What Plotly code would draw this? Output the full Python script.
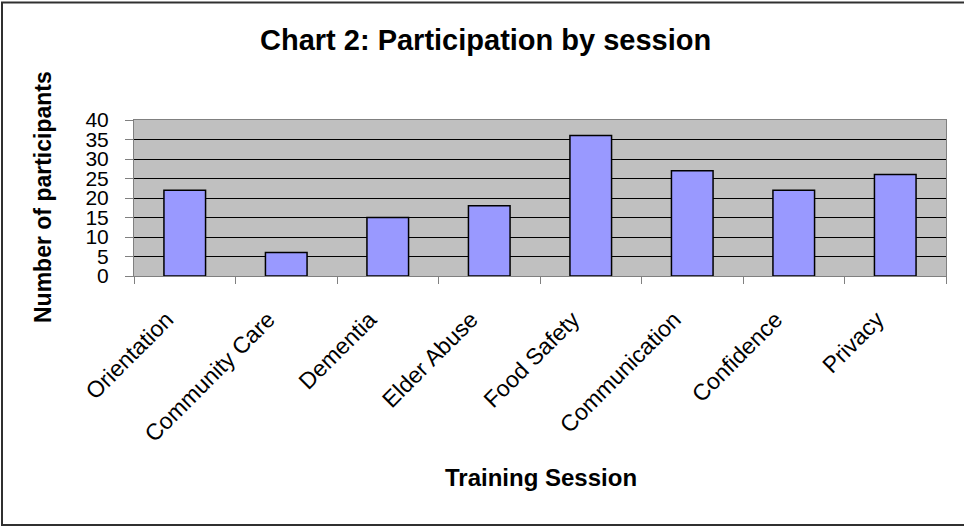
import plotly.graph_objects as go

# Training sessions and attendance counts
sessions = ["Orientation", "Community Care", "Dementia", "Elder Abuse",
            "Food Safety", "Communication", "Confidence", "Privacy"]
participants = [22, 6, 15, 18, 36, 27, 22, 26]

y_ticks = [0, 5, 10, 15, 20, 25, 30, 35, 40]

FONT = "Liberation Sans, Arial, sans-serif"

# plot area in pixels: x 134..946, y 120..276
W, H = 964, 527
L, R, T, B = 134, 18, 120, 251
PW, PH = W - L - R, H - T - B


def px_x(px):
    return (px - L) / PW


def px_y(py):
    return (H - B - py) / PH


fig = go.Figure(
    go.Bar(
        x=sessions,
        y=participants,
        width=0.41,
        marker=dict(color="#9999FF", line=dict(color="black", width=1.5)),
    )
)

fig.update_layout(
    width=W,
    height=H,
    margin=dict(l=L, r=R, t=T, b=B, pad=0),
    paper_bgcolor="white",
    plot_bgcolor="#C0C0C0",
    showlegend=False,
    font=dict(family=FONT, color="black"),
)

fig.update_xaxes(
    type="category",
    tickson="boundaries",
    ticks="outside",
    ticklen=7,
    tickcolor="#808080",
    tickwidth=1,
    tickangle=-45,
    tickfont=dict(size=23, family=FONT),
    ticklabelstandoff=20,
    ticklabelshift=-18,
    showline=True,
    linecolor="#808080",
    linewidth=1,
    mirror=True,
    showgrid=False,
)

fig.update_yaxes(
    range=[0, 40],
    tickvals=y_ticks,
    ticks="outside",
    ticklen=8,
    tickcolor="#808080",
    tickwidth=1,
    tickfont=dict(size=21, family=FONT),
    ticklabelstandoff=12,
    showline=True,
    linecolor="#808080",
    linewidth=1,
    mirror=True,
    showgrid=True,
    gridcolor="black",
    gridwidth=1,
    zeroline=False,
)

annotations = [
    dict(text="<b>Chart 2: Participation by session</b>", x=px_x(485), y=px_y(40),
         font=dict(size=29, family=FONT)),
    dict(text="<b>Training Session</b>", x=px_x(541), y=px_y(477),
         font=dict(size=24, family=FONT)),
    dict(text="<b>Number of participants</b>", x=px_x(43), y=px_y(197),
         textangle=-90, font=dict(size=23, family=FONT)),
]
for a in annotations:
    a.update(xref="paper", yref="paper", showarrow=False,
             xanchor="center", yanchor="middle")
fig.update_layout(annotations=annotations)

# chart frame
fig.add_shape(
    type="rect", xref="paper", yref="paper",
    x0=px_x(2), x1=px_x(990), y0=px_y(525), y1=px_y(2.5),
    line=dict(color="#303030", width=2), fillcolor="rgba(0,0,0,0)",
    layer="above",
)

fig.write_html("out.html")
